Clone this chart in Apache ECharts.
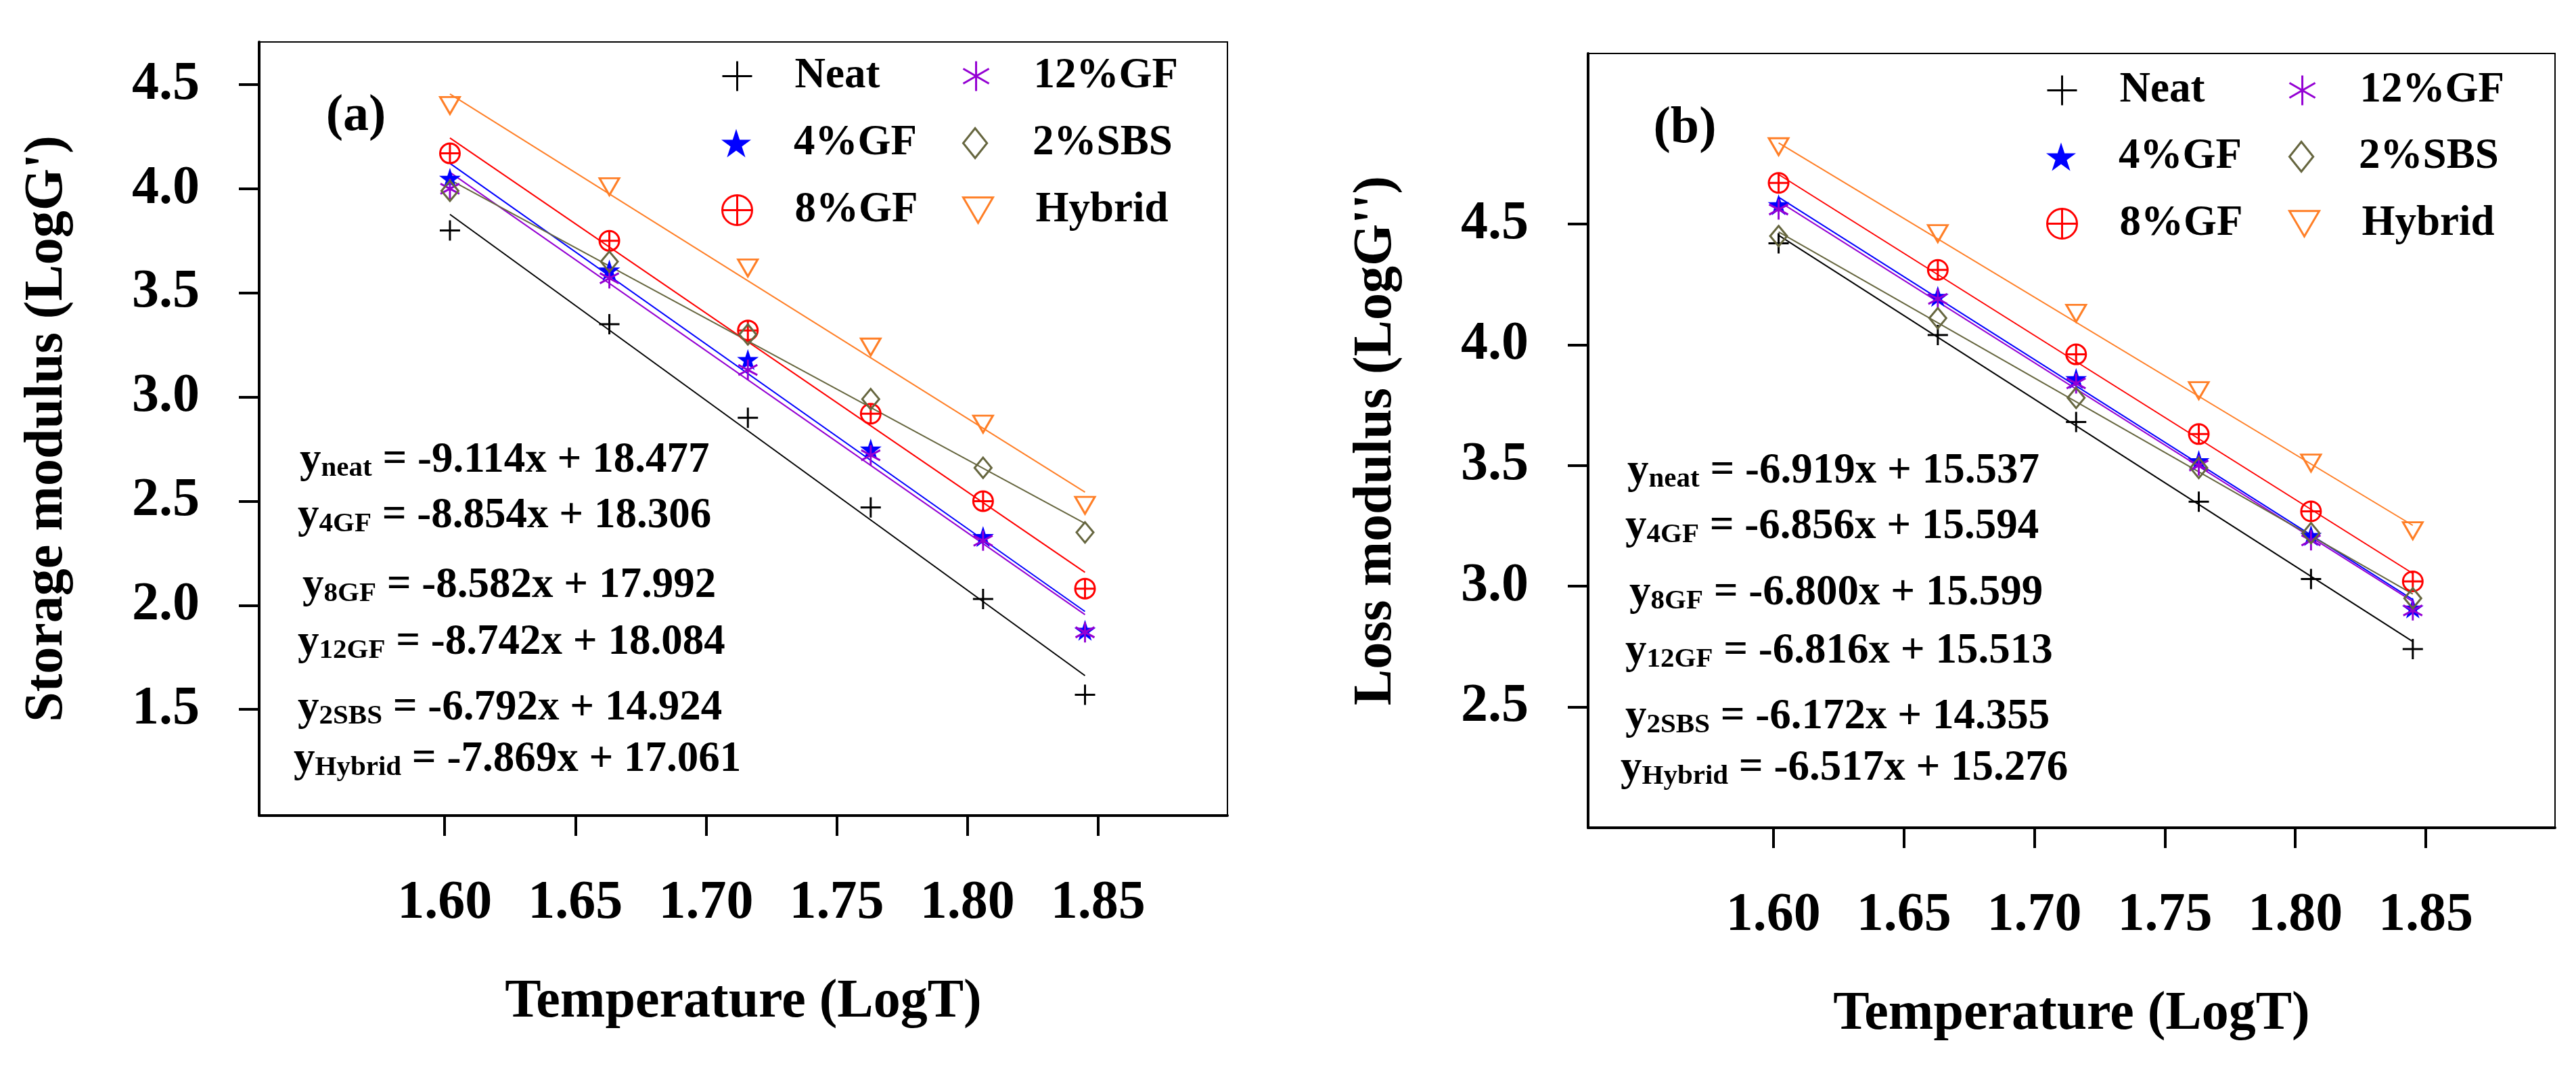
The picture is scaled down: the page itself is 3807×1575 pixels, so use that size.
<!DOCTYPE html>
<html>
<head>
<meta charset="utf-8">
<script src="https://cdn.jsdelivr.net/npm/echarts@6/dist/echarts.min.js"></script>
<style>
html,body{margin:0;padding:0;background:#fff;}
#chart{width:3807px;height:1575px;}
</style>
</head>
<body>
<div id="chart"></div>
<script>
// ---------- data ----------
const logT = [1.602, 1.663, 1.716, 1.763, 1.806, 1.845];
const groupNames = ['Neat', '4%GF', '8%GF', '12%GF', '2%SBS', 'Hybrid'];

// (a) Storage modulus LogG'
const storageNeat   = [3.80, 3.35, 2.90, 2.47, 2.03, 1.57];
const storage4GF    = [4.05, 3.61, 3.18, 2.75, 2.33, 1.88];
const storage8GF    = [4.17, 3.75, 3.32, 2.92, 2.50, 2.08];
const storage12GF   = [4.00, 3.57, 3.13, 2.72, 2.31, 1.87];
const storage2SBS   = [3.99, 3.65, 3.30, 2.99, 2.66, 2.35];
const storageHybrid = [4.40, 4.01, 3.62, 3.24, 2.87, 2.48];

// (a) fitted lines: values at first and last LogT
const storageFitNeat   = [3.877, 1.662];
const storageFit4GF    = [4.122, 1.970];
const storageFit8GF    = [4.244, 2.158];
const storageFit12GF   = [4.079, 1.955];
const storageFit2SBS   = [4.043, 2.393];
const storageFitHybrid = [4.455, 2.543];

// (b) Loss modulus LogG''
const lossNeat   = [4.42, 4.04, 3.68, 3.35, 3.03, 2.74];
const loss4GF    = [4.58, 4.20, 3.86, 3.52, 3.21, 2.91];
const loss8GF    = [4.67, 4.31, 3.96, 3.63, 3.31, 3.02];
const loss12GF   = [4.56, 4.19, 3.84, 3.50, 3.19, 2.90];
const loss2SBS   = [4.45, 4.11, 3.78, 3.49, 3.22, 2.95];
const lossHybrid = [4.82, 4.46, 4.13, 3.81, 3.51, 3.23];

const lossFitNeat   = [4.453, 2.771];
const lossFit4GF    = [4.611, 2.945];
const lossFit8GF    = [4.705, 3.053];
const lossFit12GF   = [4.594, 2.937];
const lossFit2SBS   = [4.467, 2.968];
const lossFitHybrid = [4.836, 3.252];

// tick labels
const xTicks = [1.60, 1.65, 1.70, 1.75, 1.80, 1.85];
const yTicksA = [1.5, 2.0, 2.5, 3.0, 3.5, 4.0, 4.5];
const yTicksB = [2.5, 3.0, 3.5, 4.0, 4.5];

// regression equations shown in the panels
const eqSubs = ['neat', '4GF', '8GF', '12GF', '2SBS', 'Hybrid'];
const eqA = ['-9.114x + 18.477', '-8.854x + 18.306', '-8.582x + 17.992', '-8.742x + 18.084', '-6.792x + 14.924', '-7.869x + 17.061'];
const eqB = ['-6.919x + 15.537', '-6.856x + 15.594', '-6.800x + 15.599', '-6.816x + 15.513', '-6.172x + 14.355', '-6.517x + 15.276'];

// ---------- styling ----------
const FONT = 'Liberation Serif, Times New Roman, serif';
const colors = ['#000000', '#0000ff', '#ff0000', '#9400d3', '#66663f', '#ff7f27'];
const symbols = [
  'path://M-1,0 L1,0 M0,-1 L0,1',
  'path://M0,-1 L0.2245,-0.309 L0.951,-0.309 L0.363,0.118 L0.588,0.809 L0,0.382 L-0.588,0.809 L-0.363,0.118 L-0.951,-0.309 L-0.2245,-0.309 Z',
  'path://M-1,0 A1,1 0 1,0 1,0 A1,1 0 1,0 -1,0 Z M-1,0 L1,0 M0,-1 L0,1',
  'path://M0,-1 L0,1 M-0.866,-0.5 L0.866,0.5 M-0.866,0.5 L0.866,-0.5',
  'path://M0,-1 L0.8,0 L0,1 L-0.8,0 Z',
  'path://M-1,-0.85 L1,-0.85 L0,0.85 Z'
];
const symSizes = [[30, 30], [32, 31], [29, 29], [28, 30], [25, 30], [29, 25]];
const filled = [false, true, false, false, false, false];

const storageVals = [storageNeat, storage4GF, storage8GF, storage12GF, storage2SBS, storageHybrid];
const storageFits = [storageFitNeat, storageFit4GF, storageFit8GF, storageFit12GF, storageFit2SBS, storageFitHybrid];
const lossVals = [lossNeat, loss4GF, loss8GF, loss12GF, loss2SBS, lossHybrid];
const lossFits = [lossFitNeat, lossFit4GF, lossFit8GF, lossFit12GF, lossFit2SBS, lossFitHybrid];

const grids = [
  {left: 383, top: 62, width: 1431, height: 1143, show: true, borderColor: '#000', borderWidth: 2, backgroundColor: 'transparent'},
  {left: 2347, top: 79, width: 1429, height: 1144, show: true, borderColor: '#000', borderWidth: 2, backgroundColor: 'transparent'}
];

function xAxisFor(gi) {
  return {
    type: 'value', gridIndex: gi, min: 1.529, max: 1.8995,
    name: 'Temperature (LogT)', nameLocation: 'middle', nameGap: 236,
    nameTextStyle: {fontFamily: FONT, fontWeight: 'bold', fontSize: 80, color: '#000', lineHeight: 80},
    axisLine: {show: true, onZero: false, lineStyle: {color: '#000', width: 4}},
    axisTick: {show: true, inside: false, length: 30, lineStyle: {color: '#000', width: 4}, customValues: xTicks},
    axisLabel: {show: true, margin: 90, customValues: xTicks, formatter: v => Number(v).toFixed(2),
      fontFamily: FONT, fontWeight: 'bold', fontSize: 80, color: '#000', lineHeight: 80},
    splitLine: {show: false}
  };
}
function yAxisFor(gi, min, max, ticks, name) {
  return {
    type: 'value', gridIndex: gi, min: min, max: max,
    name: name, nameLocation: 'middle', nameGap: 273, nameRotate: 90,
    nameTextStyle: {fontFamily: FONT, fontWeight: 'bold', fontSize: 80, color: '#000', lineHeight: 80},
    axisLine: {show: true, onZero: false, lineStyle: {color: '#000', width: 4}},
    axisTick: {show: true, inside: false, length: 30, lineStyle: {color: '#000', width: 4}, customValues: ticks},
    axisLabel: {show: true, margin: 88, customValues: ticks, formatter: v => Number(v).toFixed(1),
      fontFamily: FONT, fontWeight: 'bold', fontSize: 80, color: '#000'},
    splitLine: {show: false}
  };
}

const series = [];
function addPanel(gi, vals, fits) {
  fits.forEach((f, i) => {
    series.push({
      type: 'line', name: groupNames[i] + ' fit ' + gi, xAxisIndex: gi, yAxisIndex: gi,
      data: [[logT[0], f[0]], [logT[logT.length - 1], f[1]]],
      showSymbol: false, symbol: 'none', silent: true, z: 2,
      lineStyle: {color: colors[i], width: 2}
    });
  });
  vals.forEach((v, i) => {
    series.push({
      type: 'scatter', name: groupNames[i], xAxisIndex: gi, yAxisIndex: gi,
      data: v.map((y, k) => [logT[k], y]),
      symbol: symbols[i], symbolSize: symSizes[i], z: 3,
      itemStyle: filled[i]
        ? {color: colors[i], borderWidth: 0, opacity: 1}
        : {color: 'rgba(0,0,0,0)', borderColor: colors[i], borderWidth: 3, opacity: 1}
    });
  });
}
addPanel(0, storageVals, storageFits);
addPanel(1, lossVals, lossFits);

// one legend item per component so that each sits at its own place
const legendCentersA = [[1088, 112], [1088, 211], [1088, 310], [1444, 112], [1444, 211], [1444, 310]];
const legendCentersB = [[3046, 133], [3046, 231], [3046, 330], [3404, 133], [3404, 231], [3404, 330]];
function legendAt(cx, cy, name) {
  return {
    show: true, orient: 'vertical', left: cx - 22, top: cy - 31, padding: 0,
    itemWidth: 44, itemHeight: 44, selectedMode: false,
    data: [name],
    itemStyle: {borderWidth: 3},
    textStyle: {fontFamily: FONT, fontWeight: 'bold', fontSize: 63, color: '#000', lineHeight: 62, padding: [0, 0, 0, 58]}
  };
}
const legends = [];
groupNames.forEach((n, i) => legends.push(legendAt(legendCentersA[i][0], legendCentersA[i][1], n)));
groupNames.forEach((n, i) => legends.push(legendAt(legendCentersB[i][0], legendCentersB[i][1], n)));

const eqRich = {
  y: {fontFamily: FONT, fontWeight: 'bold', fontSize: 63, lineHeight: 63, verticalAlign: 'bottom', fill: '#000'},
  s: {fontFamily: FONT, fontWeight: 'bold', fontSize: 41, lineHeight: 19, verticalAlign: 'bottom', fill: '#000'},
  m: {fontFamily: FONT, fontWeight: 'bold', fontSize: 63, lineHeight: 63, verticalAlign: 'bottom', fill: '#000'}
};
const eqPosA = [[443, 681], [440, 763], [447, 866], [440, 950], [440, 1047], [434, 1123]];
const eqPosB = [[2405, 697], [2402, 779], [2408, 877], [2402, 963], [2402, 1060], [2395, 1136]];
const graphics = [];
function addEqs(eqs, pos) {
  eqs.forEach((e, i) => {
    graphics.push({
      type: 'text', x: pos[i][0], y: pos[i][1], z: 10,
      style: {
        text: '{y|y}{s|' + eqSubs[i] + '}{m| = ' + e + '}',
        rich: eqRich, align: 'left', verticalAlign: 'middle',
        textAlign: 'left', textVerticalAlign: 'middle', fill: '#000'
      }
    });
  });
}
addEqs(eqA, eqPosA);
addEqs(eqB, eqPosB);
graphics.push({type: 'text', x: 526, y: 172, z: 10,
  style: {text: '(a)', font: 'bold 76px ' + FONT, fill: '#000', align: 'center', verticalAlign: 'middle', textAlign: 'center', textVerticalAlign: 'middle'}});
graphics.push({type: 'text', x: 2490, y: 190, z: 10,
  style: {text: '(b)', font: 'bold 76px ' + FONT, fill: '#000', align: 'center', verticalAlign: 'middle', textAlign: 'center', textVerticalAlign: 'middle'}});

const chart = echarts.init(document.getElementById('chart'), null, {renderer: 'canvas'});
chart.setOption({
  backgroundColor: '#ffffff',
  animation: false,
  grid: grids,
  xAxis: [xAxisFor(0), xAxisFor(1)],
  yAxis: [
    yAxisFor(0, 0.99, 4.705, yTicksA, "Storage modulus (LogG')"),
    yAxisFor(1, 2.0, 5.206, yTicksB, "Loss modulus (LogG'')")
  ],
  legend: legends,
  graphic: graphics,
  series: series
});
</script>
</body>
</html>
